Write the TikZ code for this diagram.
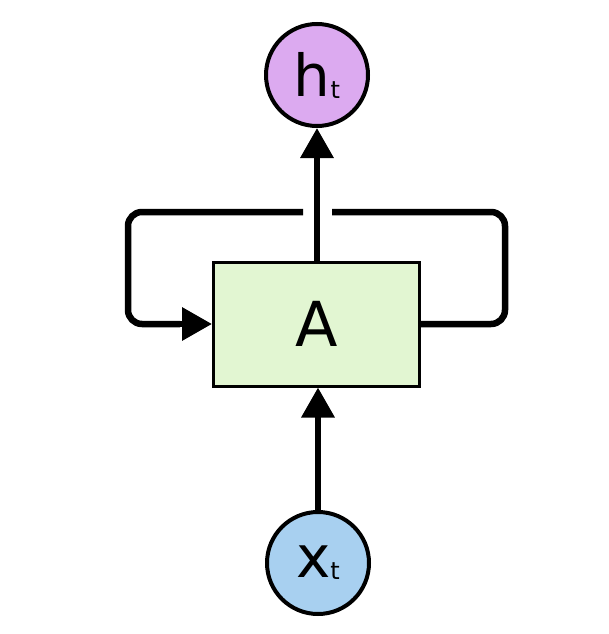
\documentclass[tikz,border=0pt]{standalone}
\usepackage{fontspec}
\setmainfont{DejaVu Sans}
\usetikzlibrary{arrows.meta}
\definecolor{hcol}{HTML}{DCAAF0}
\definecolor{xcol}{HTML}{A8D0F0}
\definecolor{acol}{HTML}{E2F6D2}
\begin{document}
\begin{tikzpicture}[x=1pt,y=-1pt,
  wire/.style={line width=6.5pt,line cap=butt},
  arr/.style={wire,-{Triangle[length=30pt,width=32pt]}},
  io/.style={circle,draw,line width=4pt,minimum size=102pt,inner sep=0pt,font=\fontsize{58}{60}\selectfont}]
\useasboundingbox (0,0) rectangle (609,634);
\node[io,fill=hcol] (h) at (317,75) {h\raisebox{-2pt}{\fontsize{24}{24}\selectfont t}};
\node[io,fill=xcol] (x) at (318,563) {x\raisebox{-2pt}{\fontsize{24}{24}\selectfont t}};
\node[draw,line width=3pt,fill=acol,minimum width=206pt,minimum height=124pt,inner sep=0pt,font=\fontsize{62}{64}\selectfont] (A) at (316.5,324) {A};
\draw[arr] (x.north) -- (A.south -| x.north);
\draw[arr] (A.north -| h.south) -- (h.south);
\coordinate (g1) at (332,212);
\coordinate (g2) at (303,212);
\draw[wire,rounded corners=14pt] (A.east) -- (505,324) -- (505,212) -- (g1);
\draw[wire,rounded corners=14pt] (g2) -- (128,212) -- (128,324) -- (180,324);
\draw[arr] (170,324) -- (A.west);
\end{tikzpicture}
\end{document}
